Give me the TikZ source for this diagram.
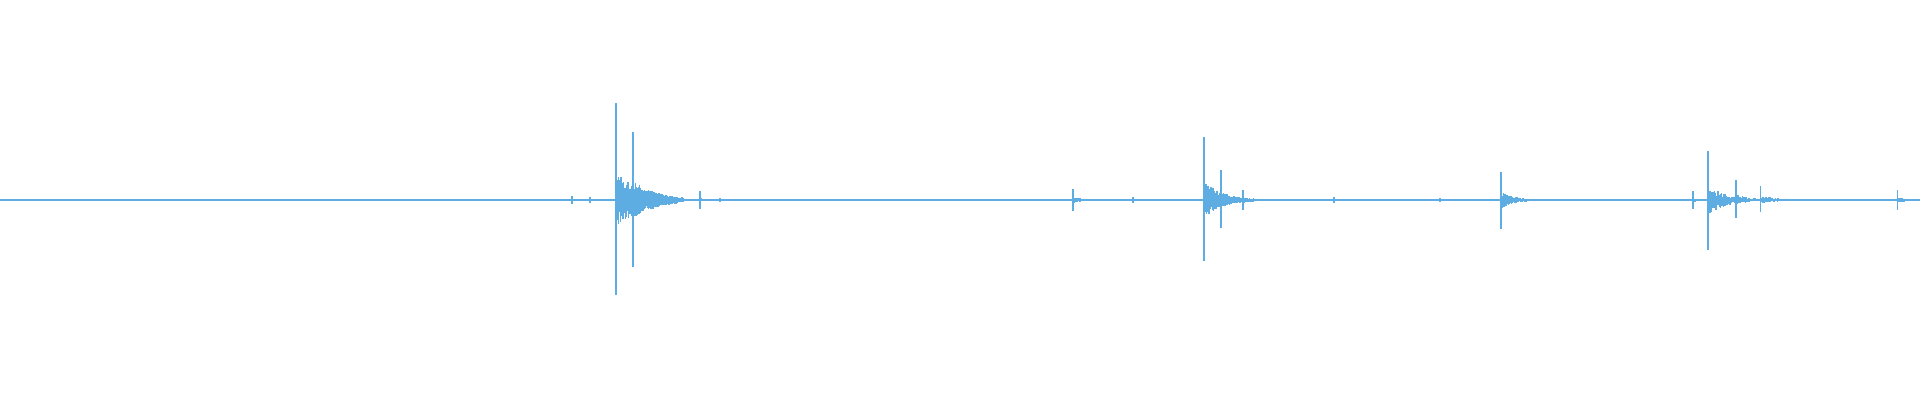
\documentclass[tikz,border=0pt]{standalone}
\usepackage{tikz}
\definecolor{wavecol}{HTML}{5DADE2}
\tikzset{wave/.style={draw=wavecol, line width=0.3pt}}
% one burst: start x, height up, depth down, length (all in px)
\newcommand{\burst}[4]{%
  \foreach \t in {0,1,...,#4}{%
    \pgfmathsetmacro{\a}{(\t==0 ? 1 : exp(-2*\t/#4)*(0.08+0.22*rnd))}
    \pgfmathsetmacro{\b}{(\t==0 ? 1 : exp(-2*\t/#4)*(0.08+0.22*rnd))}
    \draw[wave] ({(#1+\t*0.5)/100},{2-#2*\a/100}) -- ({(#1+\t*0.5)/100},{2+#3*\b/100});
  }}
\begin{document}
\begin{tikzpicture}[yscale=-1]
  \pgfmathsetseed{7}
  \useasboundingbox (0,0) rectangle (19.2,4);
  \coordinate (start) at (0,2);
  \coordinate (stop) at (19.2,2);
  \draw[wave] (start) -- (stop);
  % faint noise along the line
  \foreach \x in {240,270,375,545,1000,1330,1440,1860}{
    \draw[wave] ({\x/100},1.99) -- ({\x/100},2.01);
  }
  \burst{572}{4}{4}{20}
  \burst{590}{3}{3}{40}
  \burst{616}{97}{95}{120}
  \burst{633}{68}{67}{100}
  \burst{700}{9}{9}{12}
  \burst{720}{2}{2}{20}
  \burst{1073}{11}{11}{60}
  \burst{1133}{3}{3}{16}
  \burst{1204}{63}{61}{80}
  \burst{1221}{30}{28}{60}
  \burst{1243}{10}{10}{80}
  \burst{1334}{3}{3}{16}
  \burst{1440}{2}{2}{16}
  \burst{1501}{28}{29}{60}
  \burst{1693}{9}{9}{20}
  \burst{1708}{49}{50}{80}
  \burst{1736}{20}{18}{60}
  \burst{1760}{14}{12}{100}
  \burst{1897}{10}{10}{46}
\end{tikzpicture}
\end{document}
